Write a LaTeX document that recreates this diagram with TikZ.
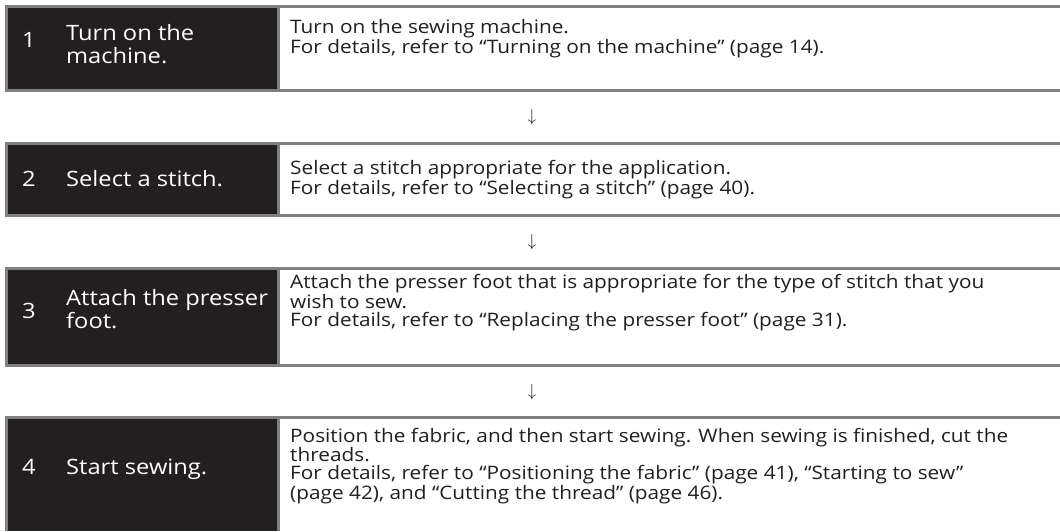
\documentclass[tikz,border=0pt]{standalone}
\usepackage{fontspec}
\setmainfont{Open Sans}
\newfontfamily\descfont[FakeStretch=1.12]{Open Sans}
\newfontfamily\labfont[FakeStretch=1.12]{Open Sans}
\definecolor{ink}{HTML}{231F20}
\definecolor{rulegray}{HTML}{808080}
\newlength\descw
\newlength\labw
\begin{document}
\settowidth\descw{\descfont\fontsize{10}{12}\selectfont Position the fabric, and then start sewing. When sewing is finished, cut the}%
\settowidth\labw{\labfont\fontsize{10}{12}\selectfont Turn on the}%
\pgfmathsetmacro\descsize{10*718/\descw}%
\pgfmathsetmacro\labsize{10*128/\labw}%
\begin{tikzpicture}[x=1pt,y=-1pt,
  lab/.style={anchor=base west, inner sep=0pt, text=white, align=left,
    font=\labfont\fontsize{\labsize}{23}\selectfont},
  num/.style={anchor=base west, inner sep=0pt, text=white,
    font=\labfont\fontsize{\labsize}{23}\selectfont},
  desc/.style={anchor=base west, inner sep=0pt, text=ink, align=left,
    font=\descfont\fontsize{\descsize}{17.8}\selectfont},
  arr/.style={inner sep=0pt, text=ink, font=\fontsize{17}{20}\selectfont},
  frame/.style={fill=rulegray},
  dark/.style={fill=ink},
  light/.style={fill=white}]
\useasboundingbox[fill=white] (0,0) rectangle (1060,531);
% row 1
\fill[frame] (5,5) rectangle (1060,92);
\fill[dark] (8,8) rectangle (277,89);
\fill[light] (280,8) rectangle (1060,89);
% row 2
\fill[frame] (5,142) rectangle (1060,217);
\fill[dark] (8,145) rectangle (277,214);
\fill[light] (280,145) rectangle (1060,214);
% row 3
\fill[frame] (5,267) rectangle (1060,367);
\fill[dark] (8,270) rectangle (277,364);
\fill[light] (280,270) rectangle (1060,364);
% row 4
\fill[frame] (5,416) rectangle (1060,531);
\fill[dark] (8,419) rectangle (277,531);
\fill[light] (280,419) rectangle (1060,531);

\node[num] (n1) at (22,47) {1};
\node[lab] (l1) at (66,63) {Turn on the\\machine.};
\node[desc] (d1) at (290,53) {Turn on the sewing machine.\\For details, refer to “Turning on the machine” (page 14).};

\node[arr] (a1) at (532,117) {$\downarrow$};

\node[num] (n2) at (22,186) {2};
\node[lab] (l2) at (66,186) {Select a stitch.};
\node[desc] (d2) at (290,194) {Select a stitch appropriate for the application.\\For details, refer to “Selecting a stitch” (page 40).};

\node[arr] (a2) at (532,242) {$\downarrow$};

\node[num] (n3) at (22,318) {3};
\node[lab] (l3) at (66,328) {Attach the presser\\foot.};
\node[desc] (d3) at (290,326) {Attach the presser foot that is appropriate for the type of stitch that you\\wish to sew.\\For details, refer to “Replacing the presser foot” (page 31).};

\node[arr] (a3) at (532,392) {$\downarrow$};

\node[num] (n4) at (22,474) {4};
\node[lab] (l4) at (66,474) {Start sewing.};
\node[desc] (d4) at (290,499) {Position the fabric, and then start sewing. When sewing is finished, cut the\\threads.\\For details, refer to “Positioning the fabric” (page 41), “Starting to sew”\\(page 42), and “Cutting the thread” (page 46).};
\end{tikzpicture}
\end{document}
